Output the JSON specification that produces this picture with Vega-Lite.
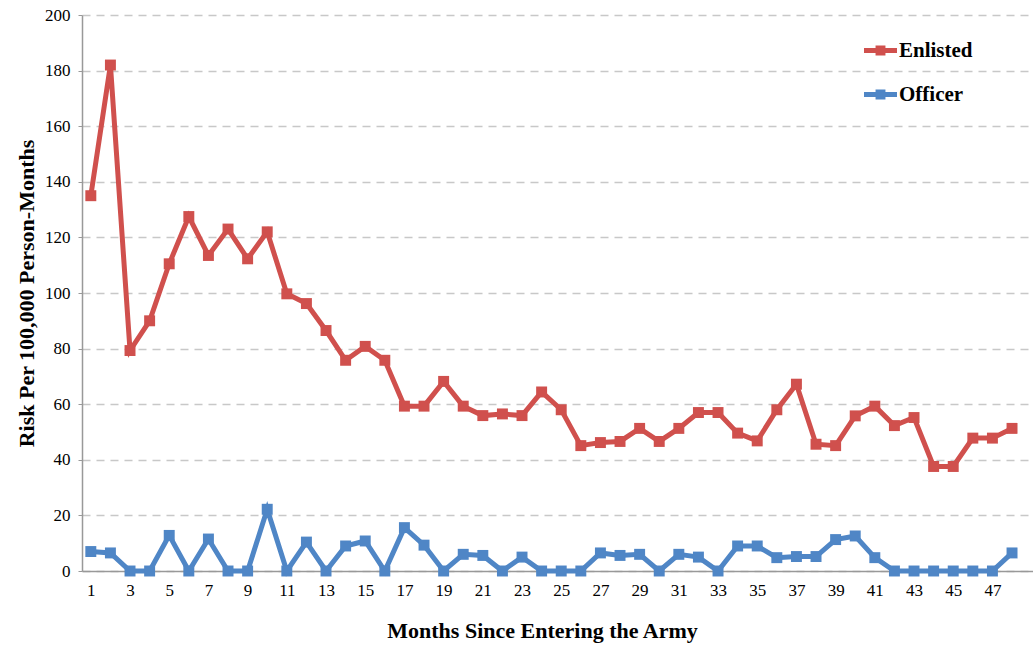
{
  "$schema": "https://vega.github.io/schema/vega-lite/v6.json",
  "width": 951,
  "height": 556,
  "autosize": {"type": "none"},
  "padding": {"left": 82, "top": 15, "right": 0, "bottom": 79},
  "background": "white",
  "config": {
    "view": {"stroke": null},
    "font": "Liberation Serif"
  },
  "data": {
    "values": [
      {"month": 1, "series": "Enlisted", "risk": 135}, {"month": 2, "series": "Enlisted", "risk": 182},
      {"month": 3, "series": "Enlisted", "risk": 79.3}, {"month": 4, "series": "Enlisted", "risk": 90},
      {"month": 5, "series": "Enlisted", "risk": 110.5}, {"month": 6, "series": "Enlisted", "risk": 127.5},
      {"month": 7, "series": "Enlisted", "risk": 113.5}, {"month": 8, "series": "Enlisted", "risk": 123},
      {"month": 9, "series": "Enlisted", "risk": 112.3}, {"month": 10, "series": "Enlisted", "risk": 122},
      {"month": 11, "series": "Enlisted", "risk": 99.7}, {"month": 12, "series": "Enlisted", "risk": 96.2},
      {"month": 13, "series": "Enlisted", "risk": 86.5}, {"month": 14, "series": "Enlisted", "risk": 75.8},
      {"month": 15, "series": "Enlisted", "risk": 80.8}, {"month": 16, "series": "Enlisted", "risk": 75.8},
      {"month": 17, "series": "Enlisted", "risk": 59.3}, {"month": 18, "series": "Enlisted", "risk": 59.3},
      {"month": 19, "series": "Enlisted", "risk": 68.2}, {"month": 20, "series": "Enlisted", "risk": 59.3},
      {"month": 21, "series": "Enlisted", "risk": 55.9}, {"month": 22, "series": "Enlisted", "risk": 56.5},
      {"month": 23, "series": "Enlisted", "risk": 55.9}, {"month": 24, "series": "Enlisted", "risk": 64.4},
      {"month": 25, "series": "Enlisted", "risk": 58}, {"month": 26, "series": "Enlisted", "risk": 45.1},
      {"month": 27, "series": "Enlisted", "risk": 46.2}, {"month": 28, "series": "Enlisted", "risk": 46.6},
      {"month": 29, "series": "Enlisted", "risk": 51.3}, {"month": 30, "series": "Enlisted", "risk": 46.6},
      {"month": 31, "series": "Enlisted", "risk": 51.3}, {"month": 32, "series": "Enlisted", "risk": 57},
      {"month": 33, "series": "Enlisted", "risk": 57}, {"month": 34, "series": "Enlisted", "risk": 49.6},
      {"month": 35, "series": "Enlisted", "risk": 46.8}, {"month": 36, "series": "Enlisted", "risk": 58},
      {"month": 37, "series": "Enlisted", "risk": 67.2}, {"month": 38, "series": "Enlisted", "risk": 45.6},
      {"month": 39, "series": "Enlisted", "risk": 45.1}, {"month": 40, "series": "Enlisted", "risk": 55.8},
      {"month": 41, "series": "Enlisted", "risk": 59.3}, {"month": 42, "series": "Enlisted", "risk": 52.3},
      {"month": 43, "series": "Enlisted", "risk": 55.2}, {"month": 44, "series": "Enlisted", "risk": 37.6},
      {"month": 45, "series": "Enlisted", "risk": 37.6}, {"month": 46, "series": "Enlisted", "risk": 47.8},
      {"month": 47, "series": "Enlisted", "risk": 47.8}, {"month": 48, "series": "Enlisted", "risk": 51.3},
      {"month": 1, "series": "Officer", "risk": 7}, {"month": 2, "series": "Officer", "risk": 6.5},
      {"month": 3, "series": "Officer", "risk": 0}, {"month": 4, "series": "Officer", "risk": 0},
      {"month": 5, "series": "Officer", "risk": 12.8}, {"month": 6, "series": "Officer", "risk": 0},
      {"month": 7, "series": "Officer", "risk": 11.5}, {"month": 8, "series": "Officer", "risk": 0},
      {"month": 9, "series": "Officer", "risk": 0}, {"month": 10, "series": "Officer", "risk": 22.2},
      {"month": 11, "series": "Officer", "risk": 0}, {"month": 12, "series": "Officer", "risk": 10.4},
      {"month": 13, "series": "Officer", "risk": 0}, {"month": 14, "series": "Officer", "risk": 9},
      {"month": 15, "series": "Officer", "risk": 10.8}, {"month": 16, "series": "Officer", "risk": 0},
      {"month": 17, "series": "Officer", "risk": 15.6}, {"month": 18, "series": "Officer", "risk": 9.3},
      {"month": 19, "series": "Officer", "risk": 0}, {"month": 20, "series": "Officer", "risk": 6},
      {"month": 21, "series": "Officer", "risk": 5.6}, {"month": 22, "series": "Officer", "risk": 0},
      {"month": 23, "series": "Officer", "risk": 5}, {"month": 24, "series": "Officer", "risk": 0},
      {"month": 25, "series": "Officer", "risk": 0}, {"month": 26, "series": "Officer", "risk": 0},
      {"month": 27, "series": "Officer", "risk": 6.5}, {"month": 28, "series": "Officer", "risk": 5.6},
      {"month": 29, "series": "Officer", "risk": 6}, {"month": 30, "series": "Officer", "risk": 0},
      {"month": 31, "series": "Officer", "risk": 6}, {"month": 32, "series": "Officer", "risk": 5},
      {"month": 33, "series": "Officer", "risk": 0}, {"month": 34, "series": "Officer", "risk": 9},
      {"month": 35, "series": "Officer", "risk": 9}, {"month": 36, "series": "Officer", "risk": 4.8},
      {"month": 37, "series": "Officer", "risk": 5.2}, {"month": 38, "series": "Officer", "risk": 5.2},
      {"month": 39, "series": "Officer", "risk": 11.3}, {"month": 40, "series": "Officer", "risk": 12.6},
      {"month": 41, "series": "Officer", "risk": 4.8}, {"month": 42, "series": "Officer", "risk": 0},
      {"month": 43, "series": "Officer", "risk": 0}, {"month": 44, "series": "Officer", "risk": 0},
      {"month": 45, "series": "Officer", "risk": 0}, {"month": 46, "series": "Officer", "risk": 0},
      {"month": 47, "series": "Officer", "risk": 0}, {"month": 48, "series": "Officer", "risk": 6.5}
    ]
  },
  "encoding": {
    "x": {
      "field": "month", "type": "quantitative",
      "scale": {"domain": [0.55, 49.07], "nice": false, "zero": false},
      "axis": {
        "title": "Months Since Entering the Army",
        "titleFont": "Liberation Serif", "titleFontSize": 22, "titleFontWeight": "bold",
        "titleColor": "black", "titlePadding": 22, "titleX": 460, "titleAnchor": "middle",
        "values": [1,3,5,7,9,11,13,15,17,19,21,23,25,27,29,31,33,35,37,39,41,43,45,47],
        "labelFont": "Liberation Serif", "labelFontSize": 17, "labelColor": "black",
        "labelPadding": 11, "ticks": false, "grid": false,
        "domainColor": "#999999", "domainWidth": 1.5
      }
    },
    "y": {
      "field": "risk", "type": "quantitative",
      "scale": {"domain": [0, 200], "nice": false},
      "axis": {
        "title": "Risk Per 100,000 Person-Months",
        "titleFont": "Liberation Serif", "titleFontSize": 22, "titleFontWeight": "bold",
        "titleColor": "black", "titlePadding": 6,
        "values": [0,20,40,60,80,100,120,140,160,180,200],
        "labelFont": "Liberation Serif", "labelFontSize": 17, "labelColor": "black",
        "labelPadding": 8, "tickSize": 4, "tickColor": "#999999",
        "grid": true, "gridColor": "#c8c8c8", "gridDash": [8, 6], "gridWidth": 1.5,
        "domainColor": "#999999", "domainWidth": 1.5
      }
    },
    "color": {
      "field": "series", "type": "nominal",
      "scale": {"domain": ["Enlisted", "Officer"], "range": ["#D0504D", "#4F86C6"]},
      "legend": {
        "title": null, "orient": "none", "legendX": 782, "legendY": 19,
        "symbolType": "M-1,-0.15 L1,-0.15 L1,0.15 L-1,0.15 Z M-0.3,-0.3 L0.3,-0.3 L0.3,0.3 L-0.3,0.3 Z",
        "symbolSize": 1089, "symbolStrokeWidth": 0,
        "labelFont": "Liberation Serif", "labelFontSize": 21, "labelFontWeight": "bold",
        "labelColor": "black", "rowPadding": 17, "labelOffset": 2,
        "encode": {"symbols": {"update": {"fill": {"scale": "color", "field": "value"}, "fillOpacity": {"value": 1}}}}
      }
    }
  },
  "layer": [
    {
      "mark": {"type": "line", "strokeWidth": 5},
      "encoding": {}
    },
    {
      "mark": {"type": "point", "filled": true, "opacity": 1, "size": 120, "shape": "square"},
      "encoding": {}
    }
  ]
}
